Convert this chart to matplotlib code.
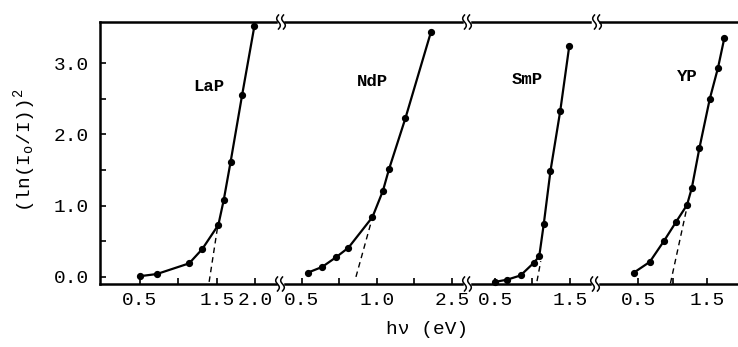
import numpy as np
import matplotlib
matplotlib.use("Agg")
import matplotlib.pyplot as plt
from matplotlib.lines import Line2D

plt.rcParams['font.family'] = ['Liberation Mono', 'DejaVu Sans']
plt.rcParams['mathtext.fontset'] = 'custom'
plt.rcParams['mathtext.rm'] = 'Liberation Mono'
plt.rcParams['mathtext.it'] = 'Liberation Mono:italic'

# ---------------- data ----------------
names = ["LaP", "NdP", "SmP", "YP"]

lap_x = [0.50, 0.72, 1.14, 1.31, 1.52, 1.59, 1.68, 1.83, 1.99]
lap_y = [0.01, 0.04, 0.19, 0.39, 0.73, 1.08, 1.62, 2.56, 3.53]
lap_dash_x = [1.40, 1.51]
lap_dash_y = [-0.07, 0.70]

ndp_x = [0.54, 0.635, 0.73, 0.81, 0.97, 1.04, 1.08, 1.19, 1.36]
ndp_y = [0.06, 0.14, 0.28, 0.41, 0.84, 1.21, 1.51, 2.23, 3.44]
ndp_dash_x = [0.86, 0.96]
ndp_dash_y = [0.00, 0.76]

smp_x = [0.50, 0.66, 0.84, 1.02, 1.09, 1.15, 1.24, 1.37, 1.49]
smp_y = [-0.07, -0.04, 0.02, 0.20, 0.29, 0.74, 1.49, 2.33, 3.24]
smp_dash_x = [1.06, 1.11]
smp_dash_y = [-0.06, 0.22]

yp_x = [0.44, 0.67, 0.88, 1.05, 1.21, 1.28, 1.39, 1.54, 1.66, 1.75]
yp_y = [0.06, 0.21, 0.51, 0.77, 1.01, 1.25, 1.81, 2.50, 2.94, 3.35]
yp_dash_x = [0.97, 1.21]
yp_dash_y = [-0.09, 0.98]

lap_ticks = [0.5, 1.0, 1.5, 2.0]
lap_ticklabels = ["0.5", "", "1.5", "2.0"]
ndp_ticks = [0.5, 0.75, 1.0, 1.25, 1.5]
ndp_ticklabels = ["0.5", "", "1.0", "", "2.5"]
smp_ticks = [0.5, 1.0, 1.5]
smp_ticklabels = ["0.5", "", "1.5"]
yp_ticks = [0.5, 1.0, 1.5]
yp_ticklabels = ["0.5", "", "1.5"]

y_ticks = [0.0, 0.5, 1.0, 1.5, 2.0, 2.5, 3.0]
y_ticklabels = ["0.0", "", "1.0", "", "2.0", "", "3.0"]

# ---------------- layout ----------------
W, H = 738, 347
fig = plt.figure(figsize=(W / 100, H / 100), dpi=100)
y_bot, y_top = 284, 22

panels = [
    dict(px=(100, 276), xlim=(-0.02, 2.27), x=lap_x, y=lap_y, dx=lap_dash_x, dy=lap_dash_y,
         ticks=lap_ticks, labels=lap_ticklabels, name_pos=(1.40, 2.67)),
    dict(px=(285, 462), xlim=(0.387, 1.567), x=ndp_x, y=ndp_y, dx=ndp_dash_x, dy=ndp_dash_y,
         ticks=ndp_ticks, labels=ndp_ticklabels, name_pos=(0.97, 2.74)),
    dict(px=(472, 590), xlim=(0.193, 1.767), x=smp_x, y=smp_y, dx=smp_dash_x, dy=smp_dash_y,
         ticks=smp_ticks, labels=smp_ticklabels, name_pos=(0.93, 2.77)),
    dict(px=(600, 738), xlim=(-0.051, 1.949), x=yp_x, y=yp_y, dx=yp_dash_x, dy=yp_dash_y,
         ticks=yp_ticks, labels=yp_ticklabels, name_pos=(1.21, 2.81)),
]

for i, p in enumerate(panels):
    x0, x1 = p['px']
    ax = fig.add_axes([x0 / W, (H - y_bot) / H, (x1 - x0) / W, (y_bot - y_top) / H])
    ax.set_xlim(*p['xlim'])
    ax.set_ylim(-0.10, 3.58)
    ax.plot(p['x'], p['y'], '-', color='black', lw=1.6, marker='o', ms=4.2, clip_on=False)
    ax.plot(p['dx'], p['dy'], '--', color='black', lw=1.0, dashes=(4, 3), clip_on=False)
    ax.text(p['name_pos'][0], p['name_pos'][1], names[i], fontsize=12.5, fontweight='bold',
            ha='center', va='center')
    ax.spines['right'].set_visible(False)
    for s in ['top', 'bottom', 'left']:
        ax.spines[s].set_linewidth(1.8)
    ax.set_xticks(p['ticks'])
    ax.set_xticklabels(p['labels'])
    ax.tick_params(axis='x', direction='in', length=4, width=1.2, labelsize=14, pad=6)
    if i == 0:
        ax.set_yticks(y_ticks)
        ax.set_yticklabels(y_ticklabels)
        ax.tick_params(axis='y', direction='in', length=4, width=1.2, labelsize=14, pad=8)
    else:
        ax.spines['left'].set_visible(False)
        ax.set_yticks([])
    ax.patch.set_alpha(0)

# break marks (double wavy strokes) on top and bottom lines
def brk(xc, yc):
    t = np.linspace(-1, 1, 30)
    for off in (-2.5, 2.5):
        xs = xc + off + 1.8 * np.sin(t * np.pi)
        ys = yc + 7 * t
        fig.add_artist(Line2D(xs / W, 1 - ys / H, color='black', lw=1.1,
                              transform=fig.transFigure))

for xc in (281, 467, 597):
    brk(xc, y_top)
for xc in (280, 467, 595):
    brk(xc, y_bot)

fig.text(427 / W, 1 - 330 / H, "hν (eV)", fontsize=14, ha='center', va='center')
fig.text(25 / W, 1 - 150 / H, r"(ln(I$_{\rm o}$/I))$^{2}$", fontsize=14, rotation=90,
         ha='center', va='center')

fig.savefig("out.png", dpi=100)
